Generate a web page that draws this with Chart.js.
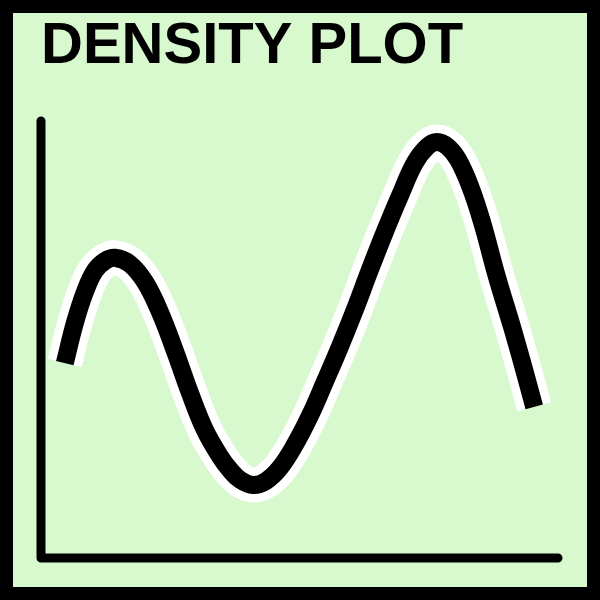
<!DOCTYPE html>
<html>
<head>
<meta charset="utf-8">
<script src="https://cdn.jsdelivr.net/npm/chart.js@4.4.1/dist/chart.umd.min.js"></script>
<style>
  html, body { margin: 0; padding: 0; background: #000; }
  #wrap { width: 600px; height: 600px; }
</style>
</head>
<body>
<div id="wrap"><canvas id="c" width="600" height="600"></canvas></div>
<script>
// ---- data ----
const titleText = 'DENSITY PLOT';
const xValues = [4.6, 6.6, 8.5, 10.4, 12.4, 14.3, 17.2, 20.1, 23.0, 25.9, 28.8, 31.7, 34.6, 36.6, 38.5, 41.0, 43.5, 46.2, 49.1, 52.0, 54.9, 57.8, 60.7, 63.6, 66.5, 69.4, 72.3, 74.7, 76.6, 78.7, 80.7, 83.0, 85.3, 88.2, 91.1, 93.4, 95.4];
const densityValues = [44.6, 54.0, 60.9, 65.7, 68.0, 68.7, 67.3, 63.2, 56.3, 47.4, 37.8, 29.3, 23.3, 20.1, 17.9, 16.7, 17.6, 20.6, 25.9, 32.5, 40.3, 48.3, 56.8, 65.9, 74.6, 82.8, 90.4, 94.1, 95.2, 94.1, 91.1, 85.1, 76.9, 64.3, 52.9, 43.3, 34.6];
const xRange = [0, 100];
const yRange = [0, 100];

const points = xValues.map((x, i) => ({ x: x, y: densityValues[i] }));

const frameBg = {
  id: 'frameBg',
  beforeDraw(chart) {
    const ctx = chart.ctx;
    ctx.save();
    ctx.fillStyle = '#000000';
    ctx.fillRect(0, 0, chart.width, chart.height);
    ctx.fillStyle = '#d8f8ce';
    ctx.fillRect(13, 13, chart.width - 26, chart.height - 26);
    ctx.restore();
  }
};

const axesLines = {
  id: 'axesLines',
  beforeDatasetsDraw(chart) {
    const ctx = chart.ctx;
    const xs = chart.scales.x, ys = chart.scales.y;
    const x0 = xs.getPixelForValue(xRange[0]);
    const x1 = xs.getPixelForValue(xRange[1]);
    const y0 = ys.getPixelForValue(yRange[0]);
    const y1 = ys.getPixelForValue(yRange[1]);
    ctx.save();
    ctx.strokeStyle = '#000000';
    ctx.lineWidth = 9;
    ctx.lineCap = 'round';
    ctx.lineJoin = 'round';
    ctx.beginPath();
    ctx.moveTo(x0, y1);
    ctx.lineTo(x0, y0);
    ctx.lineTo(x1, y0);
    ctx.stroke();
    ctx.restore();
  }
};

new Chart(document.getElementById('c'), {
  type: 'line',
  data: {
    datasets: [
      {
        data: points,
        borderColor: '#000000',
        borderWidth: 18,
        borderCapStyle: 'butt',
        borderJoinStyle: 'round',
        tension: 0.4,
        pointRadius: 0,
        fill: false,
        clip: false,
        order: 0
      },
      {
        data: points,
        borderColor: '#ffffff',
        borderWidth: 35,
        borderCapStyle: 'butt',
        borderJoinStyle: 'round',
        tension: 0.4,
        pointRadius: 0,
        fill: false,
        clip: false,
        order: 1
      }
    ]
  },
  options: {
    responsive: false,
    devicePixelRatio: 1,
    animation: false,
    layout: { padding: { left: 41, right: 42, top: 0, bottom: 42 } },
    scales: {
      x: { type: 'linear', min: xRange[0], max: xRange[1], display: false },
      y: { type: 'linear', min: yRange[0], max: yRange[1], display: false }
    },
    plugins: {
      legend: { display: false },
      tooltip: { enabled: false },
      title: {
        display: true,
        text: titleText,
        align: 'start',
        color: '#000000',
        font: { family: "'Liberation Sans', Arial, sans-serif", size: 58, weight: 'bold', lineHeight: 1 },
        padding: { top: 18, bottom: 45 }
      }
    }
  },
  plugins: [frameBg, axesLines]
});
</script>
</body>
</html>
